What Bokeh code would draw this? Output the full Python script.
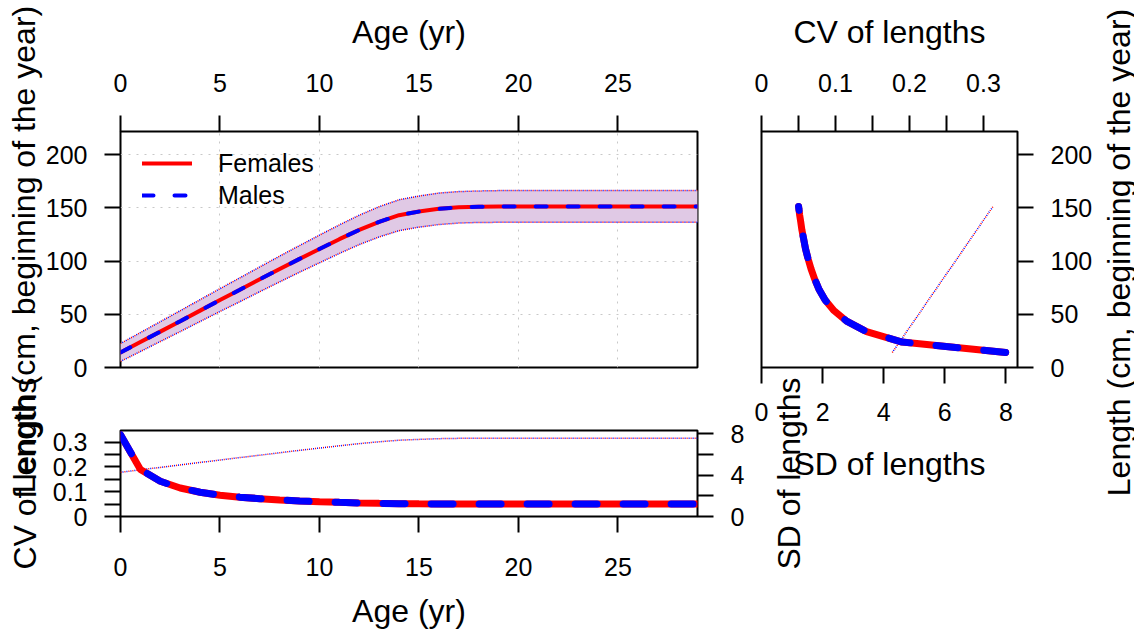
import math
from bokeh.plotting import figure
from bokeh.models import (Range1d, LinearAxis, FixedTicker, Legend, LegendItem,
                          PrintfTickFormatter, Grid, Label)
from bokeh.layouts import column
from bokeh.embed import file_html
from bokeh.resources import INLINE

# ---------------- data ----------------
ages = list(range(30))

len_f = [14.1, 23.9, 33.7, 43.5, 53.4, 63.3, 73.0, 82.8, 92.5, 102.0,
         111.3, 120.5, 129.2, 136.8, 143.0, 146.4, 149.0, 150.4, 151.0, 151.2,
         151.2, 151.2, 151.2, 151.2, 151.2, 151.2, 151.2, 151.2, 151.2, 151.2]
len_m = [14.1, 23.9, 33.7, 43.5, 53.4, 63.3, 73.0, 82.8, 92.5, 102.0,
         111.3, 120.5, 129.2, 136.8, 143.0, 146.4, 149.0, 150.4, 151.0, 151.2,
         151.2, 151.2, 151.2, 151.2, 151.2, 151.2, 151.2, 151.2, 151.2, 151.2]

upper_f = [22.5, 32.8, 43.0, 53.3, 63.7, 74.0, 84.2, 94.4, 104.6, 114.5,
           124.3, 133.9, 143.0, 151.0, 157.5, 161.0, 163.8, 165.2, 165.8, 166.1,
           166.1, 166.1, 166.1, 166.1, 166.1, 166.1, 166.1, 166.1, 166.1, 166.1]
lower_f = [5.7, 15.0, 24.4, 33.7, 43.2, 52.6, 61.8, 71.2, 80.4, 89.5,
           98.3, 107.1, 115.4, 122.6, 128.5, 131.8, 134.2, 135.6, 136.2, 136.3,
           136.3, 136.3, 136.3, 136.3, 136.3, 136.3, 136.3, 136.3, 136.3, 136.3]
upper_m = list(upper_f)
lower_m = list(lower_f)

sd_f = [4.28, 4.52, 4.75, 4.99, 5.23, 5.46, 5.70, 5.93, 6.17, 6.40,
        6.62, 6.84, 7.05, 7.23, 7.38, 7.46, 7.53, 7.56, 7.57, 7.58,
        7.58, 7.58, 7.58, 7.58, 7.58, 7.58, 7.58, 7.58, 7.58, 7.58]
sd_m = list(sd_f)

cv_f = [0.330, 0.190, 0.142, 0.115, 0.098, 0.086, 0.078, 0.072, 0.067, 0.063,
        0.0595, 0.057, 0.0546, 0.053, 0.0516, 0.051, 0.0505, 0.0503, 0.0501, 0.0501,
        0.0501, 0.0501, 0.0501, 0.0501, 0.0501, 0.0501, 0.0501, 0.0501, 0.0501, 0.0501]
cv_m = list(cv_f)

age_ticks = [0, 5, 10, 15, 20, 25]
len_ticks = [0, 50, 100, 150, 200]
cv_ticks = [0, 0.1, 0.2, 0.3]
cv_minor = [0.05, 0.15, 0.25]
sd_ticks_bottom = [0, 4, 8]
sd_minor_bottom = [2, 6]
sd_ticks_right = [0, 2, 4, 6, 8]

# ---------------- styling ----------------
W, H = 1134, 631
FONT = "Liberation Sans"
RED, BLUE = "#ff0000", "#0000ff"
BAND = "#e0c9e5"


def style_axis(ax, label_standoff, title_standoff):
    ax.axis_line_color = None
    ax.major_tick_line_color = "black"
    ax.major_tick_line_width = 2
    ax.major_tick_out = 16
    ax.major_tick_in = 0
    ax.minor_tick_line_color = "black"
    ax.minor_tick_line_width = 2
    ax.minor_tick_out = 16
    ax.minor_tick_in = 0
    ax.major_label_text_font = FONT
    ax.major_label_text_font_size = "25px"
    ax.major_label_text_color = "black"
    ax.major_label_standoff = label_standoff
    ax.axis_label_text_font = FONT
    ax.axis_label_text_font_size = "32px"
    ax.axis_label_text_font_style = "normal"
    ax.axis_label_text_color = "black"
    ax.axis_label_standoff = title_standoff
    return ax


def make_fig(xr, yr, left, right, top, bottom, base=False):
    p = figure(width=W, height=H, x_range=xr, y_range=yr,
               output_backend="svg", toolbar_location=None,
               x_axis_location=None, y_axis_location=None,
               min_border_left=left, min_border_right=right,
               min_border_top=top, min_border_bottom=bottom)
    p.frame_align = False
    p.grid.visible = False
    p.outline_line_color = "black"
    p.outline_line_width = 2
    p.background_fill_color = "white"
    p.border_fill_color = "white" if base else None
    return p


# ---------------- main panel: length at age ----------------
pA = make_fig(Range1d(0, 29), Range1d(0, 221.6), 120, 437, 131, 264, base=True)

axA_top = LinearAxis(axis_label="Age (yr)", ticker=FixedTicker(ticks=age_ticks))
style_axis(axA_top, 24, 21)
pA.add_layout(axA_top, "above")
axA_left = LinearAxis(axis_label="Length (cm, beginning of the year)",
                      ticker=FixedTicker(ticks=len_ticks))
style_axis(axA_left, 17, 1)
pA.add_layout(axA_left, "left")

for dim, ax in ((0, axA_top), (1, axA_left)):
    g = Grid(dimension=dim, axis=ax, grid_line_color="#c8c8c8",
             grid_line_dash="2 6", grid_line_width=1)
    pA.add_layout(g, "center")

pA.varea(x=ages, y1=lower_f, y2=upper_f, fill_color=BAND)
pA.varea(x=ages, y1=lower_m, y2=upper_m, fill_color=BAND)
for yy in (upper_f, lower_f):
    pA.line(ages, yy, line_color=RED, line_width=1.5, line_dash="1 3")
for yy in (upper_m, lower_m):
    pA.line(ages, yy, line_color=BLUE, line_width=1.5, line_dash="1 3",
            line_dash_offset=2)
rF = pA.line(ages, len_f, line_color=RED, line_width=4, line_cap="round")
rM = pA.line(ages, len_m, line_color=BLUE, line_width=4, line_cap="round",
             line_dash="11 21")

legend = Legend(items=[LegendItem(label="Females", renderers=[rF]),
                       LegendItem(label="Males", renderers=[rM])],
                location=(22, 156), border_line_color=None,
                background_fill_alpha=0, padding=0, margin=0, spacing=0,
                glyph_width=50, glyph_height=32, label_height=32,
                label_standoff=26, label_text_font=FONT,
                label_text_font_size="25px", label_text_color="black")
pA.add_layout(legend)

# ---------------- bottom panel: CV and SD at age ----------------
pB = make_fig(Range1d(0, 29), Range1d(0, 0.347), 120, 437, 430, 115)
pB.extra_y_ranges = {"sd": Range1d(0, 8.32)}

axB_bottom = LinearAxis(axis_label="Age (yr)", ticker=FixedTicker(ticks=age_ticks))
style_axis(axB_bottom, 25, 14)
pB.add_layout(axB_bottom, "below")
axB_left = LinearAxis(axis_label="CV of lengths",
                      ticker=FixedTicker(ticks=cv_ticks, minor_ticks=cv_minor),
                      formatter=PrintfTickFormatter(format="%g"))
style_axis(axB_left, 17, 7)
pB.add_layout(axB_left, "left")
axB_right = LinearAxis(y_range_name="sd",
                       ticker=FixedTicker(ticks=sd_ticks_bottom, minor_ticks=sd_minor_bottom))
style_axis(axB_right, 17, 0)
pB.add_layout(axB_right, "right")

pB.line(ages, sd_f, y_range_name="sd", line_color=RED, line_width=1.5, line_dash="1 3")
pB.line(ages, sd_m, y_range_name="sd", line_color=BLUE, line_width=1.5, line_dash="1 3",
        line_dash_offset=2)
pB.line(ages, cv_f, line_color=RED, line_width=7, line_cap="round")
pB.line(ages, cv_m, line_color=BLUE, line_width=7, line_cap="round", line_dash="22 26")

# ---------------- right panel: CV and SD vs length ----------------
pC = make_fig(Range1d(0, 8.38), Range1d(0, 221.6), 761, 117, 131, 264)
pC.extra_x_ranges = {"cv": Range1d(0, 0.346)}

axC_top = LinearAxis(axis_label="CV of lengths", x_range_name="cv",
                     ticker=FixedTicker(ticks=cv_ticks, minor_ticks=cv_minor),
                     formatter=PrintfTickFormatter(format="%g"))
style_axis(axC_top, 24, 21)
pC.add_layout(axC_top, "above")
axC_bottom = LinearAxis(axis_label="SD of lengths", ticker=FixedTicker(ticks=sd_ticks_right))
style_axis(axC_bottom, 19, 22)
pC.add_layout(axC_bottom, "below")
axC_right = LinearAxis(ticker=FixedTicker(ticks=len_ticks))
style_axis(axC_right, 17, 0)
pC.add_layout(axC_right, "right")

pC.line(sd_f, len_f, line_color=RED, line_width=1.5, line_dash="1 3")
pC.line(sd_m, len_m, line_color=BLUE, line_width=1.5, line_dash="1 3", line_dash_offset=2)
pC.line(cv_f, len_f, x_range_name="cv", line_color=RED, line_width=7, line_cap="round")
pC.line(cv_m, len_m, x_range_name="cv", line_color=BLUE, line_width=7, line_cap="round",
        line_dash="22 26")

# ---------------- overlay for the side-4 titles (read bottom-to-top, as in R) --------
pD = figure(width=W, height=H, x_range=Range1d(0, 1), y_range=Range1d(0, 1),
            output_backend="svg", toolbar_location=None,
            x_axis_location=None, y_axis_location=None,
            min_border_left=0, min_border_right=0, min_border_top=0, min_border_bottom=0)
pD.frame_align = False
pD.grid.visible = False
pD.outline_line_color = None
pD.background_fill_color = None
pD.border_fill_color = None


def side_title(text, x, y):
    pD.add_layout(Label(x=x, y=y, x_units="screen", y_units="screen", text=text,
                        angle=math.pi / 2, text_align="center",
                        text_baseline="alphabetic", text_font=FONT,
                        text_font_size="32px", text_color="black"))


side_title("SD of lengths", 788, 158)
side_title("Length (cm, beginning of the year)", 1118, 379)

# stack the full-page figures on top of each other
for p in (pB, pC, pD):
    p.margin = (-H, 0, 0, 0)
layout = column(pA, pB, pC, pD)

open("out.html", "w").write(file_html(layout, INLINE))
